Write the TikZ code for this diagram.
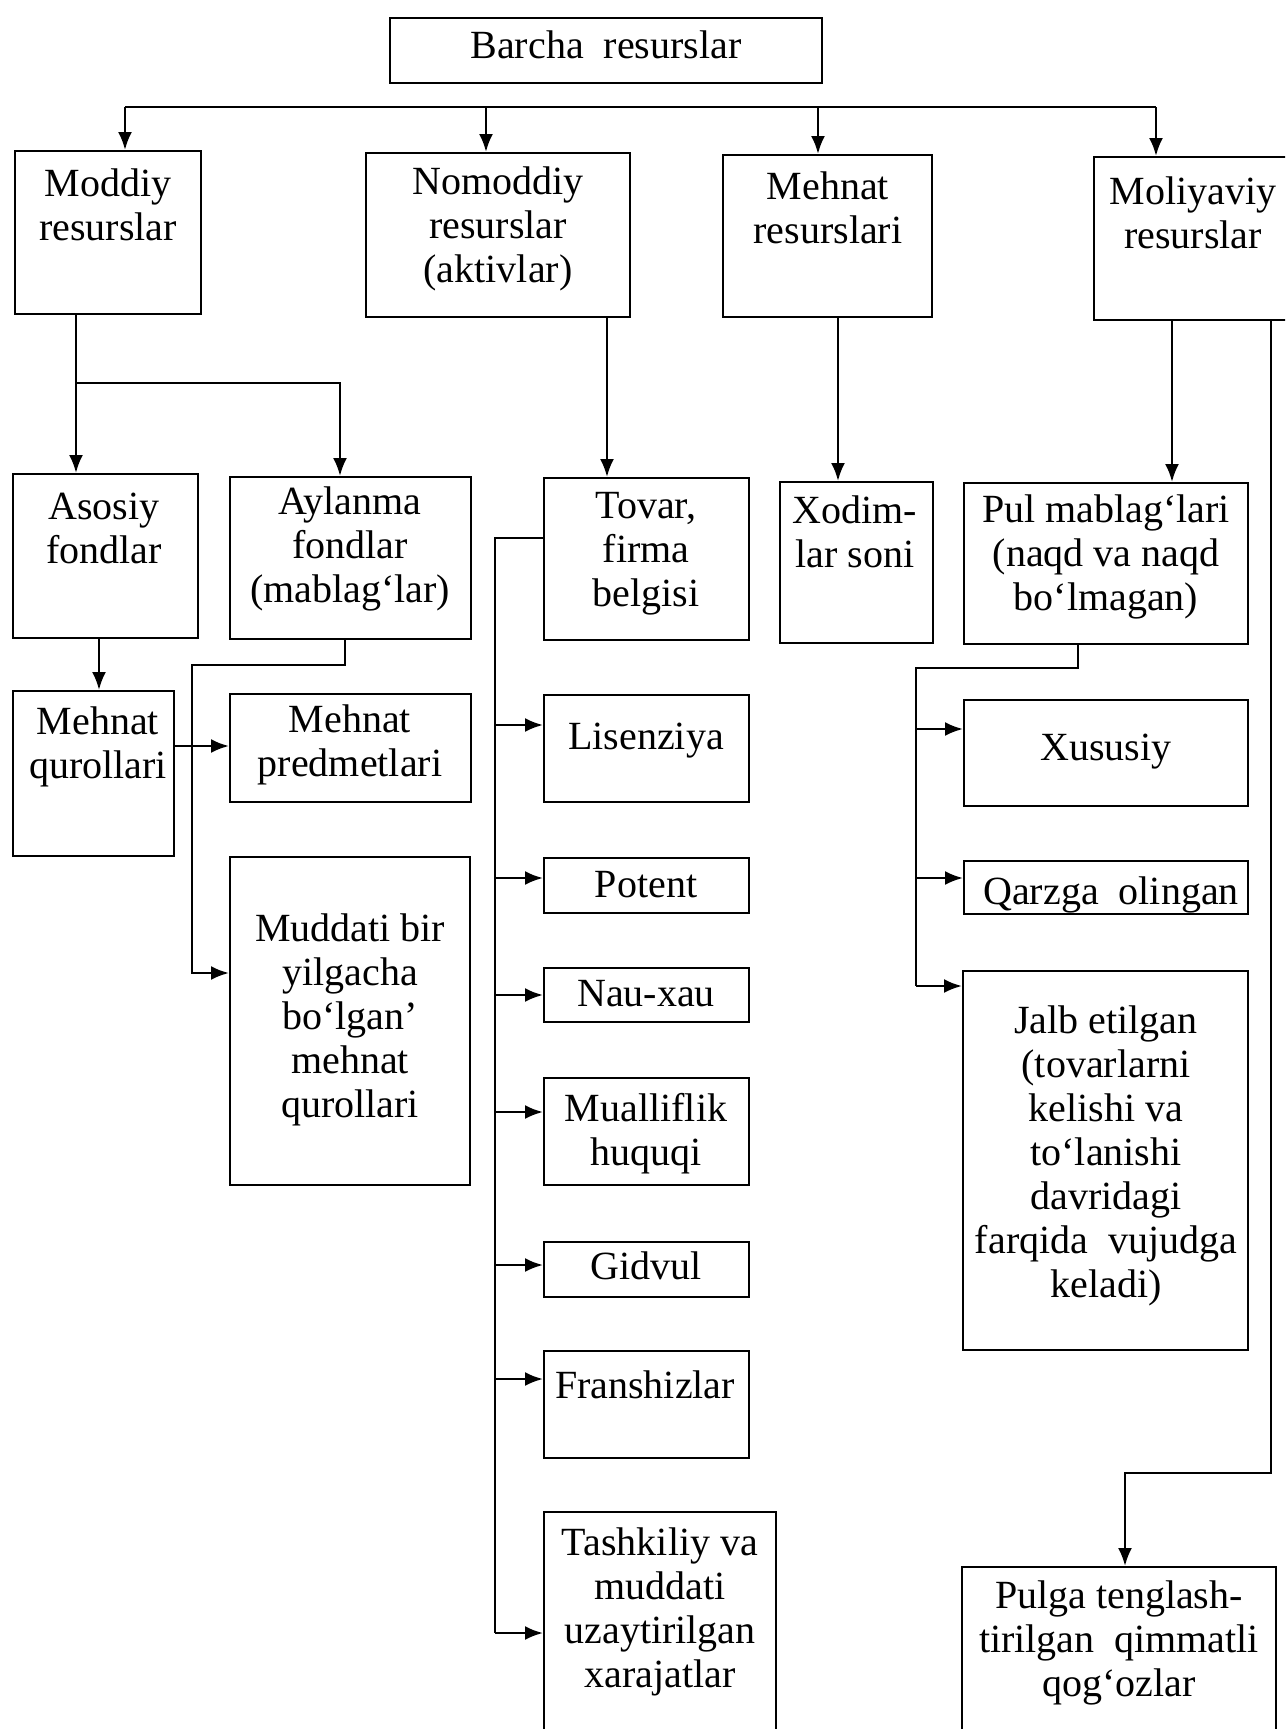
\documentclass[tikz,border=0pt]{standalone}
\usepackage{fontspec}
\setmainfont{Liberation Serif}
\usetikzlibrary{arrows.meta,fit}
\begin{document}
\begin{tikzpicture}[x=0.5pt,y=-0.5pt,
  box/.style={draw, line width=0.9pt, inner sep=0pt},
  txt/.style={align=center, inner sep=0pt, font=\fontsize{20}{22}\selectfont,
    execute at begin node=\strut, execute at end node=\strut},
  link/.style={line width=1.4pt},
  arr/.style={link, -{Latex[length=9pt,width=7pt]}}]
\useasboundingbox (0,0) rectangle (1285,1729);
\clip (0,0) rectangle (1285,1729);

% ---------- boxes ----------
\node[box, fit={(390,18)(822,83)}] (barcha) {};
\node[box, fit={(15,151)(201,314)}] (moddiy) {};
\node[box, fit={(366,153)(630,317)}] (nomoddiy) {};
\node[box, fit={(723,155)(932,317)}] (mehnatr) {};
\node[box, fit={(1094,157)(1300,320)}] (moliya) {};
\node[box, fit={(13,474)(198,638)}] (asosiy) {};
\node[box, fit={(230,477)(471,639)}] (aylanma) {};
\node[box, fit={(544,478)(749,640)}] (tovar) {};
\node[box, fit={(780,482)(933,643)}] (xodim) {};
\node[box, fit={(964,483)(1248,644)}] (pul) {};
\node[box, fit={(13,691)(174,856)}] (qurol) {};
\node[box, fit={(230,694)(471,802)}] (predmet) {};
\node[box, fit={(230,857)(470,1185)}] (muddat) {};
\node[box, fit={(544,695)(749,802)}] (lisen) {};
\node[box, fit={(544,858)(749,913)}] (potent) {};
\node[box, fit={(544,968)(749,1022)}] (nauxau) {};
\node[box, fit={(544,1078)(749,1185)}] (mualif) {};
\node[box, fit={(544,1242)(749,1297)}] (gidvul) {};
\node[box, fit={(544,1351)(749,1458)}] (fransh) {};
\node[box, fit={(544,1512)(776,1745)}] (tashkil) {};
\node[box, fit={(964,700)(1248,806)}] (xusus) {};
\node[box, fit={(964,861)(1248,914)}] (qarz) {};
\node[box, fit={(963,971)(1248,1350)}] (jalb) {};
\node[box, fit={(962,1567)(1276,1745)}] (pulga) {};

% ---------- texts ----------
\node[txt] (barcha-t) at (606,50) {Barcha\ \ resurslar};
\node[txt] (moddiy-t) at (108,211) {Moddiy\\resurslar};
\node[txt] (nomoddiy-t) at (498,231) {Nomoddiy\\resurslar\\(aktivlar)};
\node[txt] (mehnatr-t) at (828,214) {Mehnat\\resurslari};
\node[txt] (moliya-t) at (1193,219) {Moliyaviy\\resurslar};
\node[txt] (asosiy-t) at (104,535) {Asosiy\\fondlar};
\node[txt] (aylanma-t) at (350,551) {Aylanma\\fondlar\\(mablag‘lar)};
\node[txt] (tovar-t) at (646,556) {Tovar,\\firma\\belgisi};
\node[txt] (xodim-t) at (855,538) {Xodim-\\lar soni};
\node[txt] (pul-t) at (1106,559) {Pul mablag‘lari\\(naqd va naqd\\bo‘lmagan)};
\node[txt] (qurol-t) at (98,749) {Mehnat\\qurollari};
\node[txt] (predmet-t) at (350,747) {Mehnat\\predmetlari};
\node[txt] (muddat-t) at (350,1022) {Muddati bir\\yilgacha\\bo‘lgan’\\mehnat\\qurollari};
\node[txt] (lisen-t) at (646,741) {Lisenziya};
\node[txt] (potent-t) at (646,889) {Potent};
\node[txt] (nauxau-t) at (646,998) {Nau-xau};
\node[txt] (mualif-t) at (646,1136) {Mualliflik\\huquqi};
\node[txt] (gidvul-t) at (646,1271) {Gidvul};
\node[txt] (fransh-t) at (645,1390) {Franshizlar};
\node[txt] (tashkil-t) at (660,1614) {Tashkiliy va\\muddati\\uzaytirilgan\\xarajatlar};
\node[txt] (xusus-t) at (1106,752) {Xususiy};
\node[txt] (qarz-t) at (1111,896) {Qarzga\ \ olingan};
\node[txt] (jalb-t) at (1106,1158) {Jalb etilgan\\(tovarlarni\\kelishi va\\to‘lanishi\\davridagi\\farqida\ \ vujudga\\keladi)};
\node[txt] (pulga-t) at (1119,1645) {Pulga tenglash-\\tirilgan\ \ qimmatli\\qog‘ozlar};

% ---------- top bus ----------
\coordinate (bA) at (125,107);
\coordinate (bB) at (486,107);
\coordinate (bC) at (818,107);
\coordinate (bD) at (1156,107);
\draw[link] (bA) -- (bD);
\draw[arr] (bA) -- (bA |- moddiy.north);
\draw[arr] (bB) -- (bB |- nomoddiy.north);
\draw[arr] (bC) -- (bC |- mehnatr.north);
\draw[arr] (bD) -- (bD |- moliya.north);

% ---------- material resources ----------
\coordinate (mA) at (76,383);
\coordinate (mB) at (340,383);
\draw[arr] (mA |- moddiy.south) -- (mA |- asosiy.north);
\draw[arr] (mA) -- (mB) -- (mB |- aylanma.north);
\coordinate (sA) at (99,660);
\draw[arr] (sA |- asosiy.south) -- (sA |- qurol.north);
\coordinate (qA) at (200,746);
\draw[arr] (qA -| qurol.east) -- (qA -| predmet.west);
\coordinate (aA) at (345,665);
\coordinate (aB) at (192,665);
\coordinate (aC) at (192,973);
\draw[arr] (aA |- aylanma.south) -- (aA) -- (aB) -- (aC) -- (aC -| muddat.west);

% ---------- intangible assets ----------
\coordinate (nA) at (607,400);
\draw[arr] (nA |- nomoddiy.south) -- (nA |- tovar.north);
\coordinate (tA) at (495,538);
\coordinate (tB) at (495,1633);
\draw[link] (tA -| tovar.west) -- (tA) -- (tB);
\coordinate (t1) at (495,725);
\coordinate (t2) at (495,878);
\coordinate (t3) at (495,995);
\coordinate (t4) at (495,1112);
\coordinate (t5) at (495,1265);
\coordinate (t6) at (495,1379);
\draw[arr] (t1) -- (t1 -| lisen.west);
\draw[arr] (t2) -- (t2 -| potent.west);
\draw[arr] (t3) -- (t3 -| nauxau.west);
\draw[arr] (t4) -- (t4 -| mualif.west);
\draw[arr] (t5) -- (t5 -| gidvul.west);
\draw[arr] (t6) -- (t6 -| fransh.west);
\draw[arr] (tB) -- (tB -| tashkil.west);

% ---------- labour resources ----------
\coordinate (hA) at (838,400);
\draw[arr] (hA |- mehnatr.south) -- (hA |- xodim.north);

% ---------- financial resources ----------
\coordinate (fA) at (1172,400);
\draw[arr] (fA |- moliya.south) -- (fA |- pul.north);
\coordinate (pA) at (1078,668);
\coordinate (pB) at (916,668);
\coordinate (pC) at (916,986);
\draw[link] (pA |- pul.south) -- (pA) -- (pB) -- (pC);
\coordinate (p1) at (916,729);
\coordinate (p2) at (916,878);
\draw[arr] (p1) -- (p1 -| xusus.west);
\draw[arr] (p2) -- (p2 -| qarz.west);
\draw[arr] (pC) -- (pC -| jalb.west);
\coordinate (gA) at (1271,1473);
\coordinate (gB) at (1125,1473);
\draw[arr] (gA |- moliya.south) -- (gA) -- (gB) -- (gB |- pulga.north);
\end{tikzpicture}
\end{document}
